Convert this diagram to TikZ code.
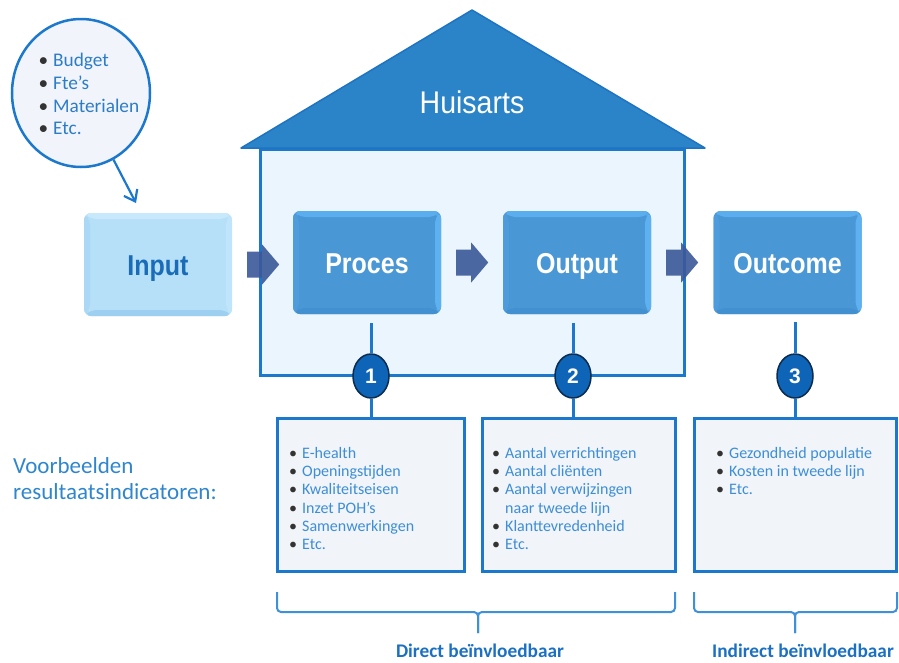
\documentclass[tikz,border=0pt]{standalone}
\usepackage{fontspec}
\setmainfont{Carlito}
\newfontfamily\lib{Liberation Sans}
\usetikzlibrary{shapes.geometric,calc,arrows.meta}
\definecolor{roof}{HTML}{2B84C7}
\definecolor{roofline}{HTML}{1E74C2}
\definecolor{housefill}{HTML}{EAF5FD}
\definecolor{blueline}{HTML}{1C78CC}
\definecolor{inface}{HTML}{B6DFF8}
\definecolor{intop}{HTML}{C8E8FB}
\definecolor{inbot}{HTML}{9DCFF0}
\definecolor{inleft}{HTML}{AAD8F5}
\definecolor{inright}{HTML}{C0E5FA}
\definecolor{intext}{HTML}{1A6CB8}
\definecolor{bface}{HTML}{4A97D6}
\definecolor{btop}{HTML}{5BAEEE}
\definecolor{bbot}{HTML}{4390D0}
\definecolor{bleft}{HTML}{4E9CDB}
\definecolor{bright}{HTML}{5DB1F0}
\definecolor{arrowc}{HTML}{3A5898}
\definecolor{boxfill}{HTML}{F1F4F9}
\definecolor{itemtext}{HTML}{3D8ED6}
\definecolor{bulc}{HTML}{333333}
\definecolor{numfill}{HTML}{0E64B6}
\definecolor{numline}{HTML}{0C2C50}
\definecolor{bubfill}{HTML}{F1F4FA}
\definecolor{bubtext}{HTML}{2C7DC8}
\definecolor{labtext}{HTML}{1C70C2}
\definecolor{bracec}{HTML}{3E90D9}
\definecolor{vbtext}{HTML}{2F86CC}
\newcommand{\biglab}[1]{\scalebox{1}[1.15]{\lib\bfseries\fontsize{25}{30}\selectfont #1}}
\newcommand{\itm}[1]{\llap{\textcolor{bulc}{\textbullet}\hspace{5pt}}#1}
\newcommand{\blockarr}[1]{\fill[arrowc, opacity=0.9] ($(#1)+(15,-13)$) -- ($(#1)+(30,-13)$) -- ($(#1)+(30,-20)$) -- ($(#1)+(47,0)$) -- ($(#1)+(30,20)$) -- ($(#1)+(30,13)$) -- ($(#1)+(15,13)$) -- cycle;}
\tikzset{
  bevel/.style n args={5}{rectangle, rounded corners=7pt, minimum width=148pt, minimum height=103pt, inner sep=0pt,
    text height=21pt, text depth=0pt, fill=#5,
    path picture={
      \coordinate (pa) at (path picture bounding box.south west);
      \coordinate (pb) at (path picture bounding box.north east);
      \coordinate (pc) at (pa|-pb);
      \coordinate (pd) at (pb|-pa);
      \fill[#1] (pa) -- (pd) -- ($(pd)+(-6,-6)$) -- ($(pa)+(6,-6)$) -- cycle;
      \fill[#2] (pc) -- (pb) -- ($(pb)+(-6,6)$) -- ($(pc)+(6,6)$) -- cycle;
      \fill[#3] (pa) -- (pc) -- ($(pc)+(6,6)$) -- ($(pa)+(6,-6)$) -- cycle;
      \fill[#4] (pd) -- (pb) -- ($(pb)+(-6,6)$) -- ($(pd)+(-6,-6)$) -- cycle;
    }},
  inputbox/.style={bevel={inbot}{intop}{inleft}{inright}{inface}, text=intext},
  stepbox/.style={bevel={bbot}{btop}{bleft}{bright}{bface}, text=white},
  conn/.style={draw=blueline, line width=3pt},
  numnode/.style={ellipse, minimum width=36pt, minimum height=44pt, inner sep=0pt, fill=numfill, draw=numline, line width=1.5pt, text=white, font=\lib\bfseries\fontsize{21}{24}\selectfont},
  listbox/.style={rectangle, draw=blueline, line width=3pt, fill=boxfill, inner sep=0pt},
  listtext/.style={anchor=north west, align=left, inner sep=0pt, text=itemtext, font=\fontsize{16}{18.3}\selectfont},
  brace/.style={draw=bracec, line width=2pt, rounded corners=4pt},
  lab/.style={anchor=base, inner sep=0pt, text=labtext, font=\bfseries\fontsize{19.3}{22}\selectfont},
}
\begin{document}
\begin{tikzpicture}[x=1pt,y=-1pt]
\useasboundingbox (0,0) rectangle (899,662);
% house
\filldraw[fill=housefill, draw=blueline, line width=3pt] (260,149) rectangle (684,375);
\filldraw[fill=roof, draw=roofline, line width=1.5pt, line join=round] (241,148) -- (472,10) -- (705,148) -- cycle;
\node[anchor=base, inner sep=0pt, text=white] (huis) at (472,113) {\scalebox{1}[1.1]{\lib\fontsize{28.5}{30}\selectfont Huisarts}};
% bubble
\node[ellipse, minimum width=138pt, minimum height=148pt, fill=bubfill, draw=blueline, line width=2.5pt, inner sep=0pt] (bubble) at (81,93) {};
\node[anchor=north west, align=left, inner sep=0pt, text=bubtext, font=\fontsize{19.3}{22.7}\selectfont] (bubtxt) at (53,53)
  {\itm{Budget}\\\itm{Fte’s}\\\itm{Materialen}\\\itm{Etc.}};
\coordinate (ptr) at (136,203);
\draw[draw=blueline, line width=2.2pt, -{Straight Barb[length=10pt,width=15pt]}] (bubble.-64) -- (ptr);
% main boxes
\node[inputbox] (in) at (158,264.5) {\biglab{Input}};
\node[stepbox] (proc) at (367,262.5) {\biglab{Proces}};
\node[stepbox] (outp) at (577,262.5) {\biglab{Output}};
\node[stepbox] (outc) at (787.5,262.5) {\biglab{Outcome}};
% block arrows
\blockarr{in.east}
\blockarr{proc.east}
\blockarr{outp.east}
% numbered circles
\node[numnode] (c1) at (371,376) {1};
\node[numnode] (c2) at (573,376) {2};
\node[numnode] (c3) at (795,376) {3};
% list boxes
\node[listbox, minimum width=187pt, minimum height=153pt] (b1) at (370.5,494.5) {};
\node[listbox, minimum width=193pt, minimum height=153pt] (b2) at (578.5,494.5) {};
\node[listbox, minimum width=202pt, minimum height=153pt] (b3) at (795,494.5) {};
% connectors
\draw[conn, shorten <=9pt] (c1 |- proc.south) -- (c1.north);
\draw[conn, shorten <=9pt] (c2 |- outp.south) -- (c2.north);
\draw[conn, shorten <=8pt] (c3 |- outc.south) -- (c3.north);
\draw[conn] (c1.south) -- (c1 |- b1.north);
\draw[conn] (c2.south) -- (c2 |- b2.north);
\draw[conn] (c3.south) -- (c3 |- b3.north);
% list texts
\node[listtext] (t1) at (302,447) {\itm{E-health}\\\itm{Openingstijden}\\\itm{Kwaliteitseisen}\\\itm{Inzet POH’s}\\\itm{Samenwerkingen}\\\itm{Etc.}};
\node[listtext] (t2) at (505,447) {\itm{Aantal verrichtingen}\\\itm{Aantal cliënten}\\\itm{Aantal verwijzingen}\\naar tweede lijn\\\itm{Klanttevredenheid}\\\itm{Etc.}};
\node[listtext] (t3) at (729,447) {\itm{Gezondheid populatie}\\\itm{Kosten in tweede lijn}\\\itm{Etc.}};
% side label
\node[anchor=north west, align=left, inner sep=0pt, text=vbtext, font=\fontsize{23}{26}\selectfont] (vb) at (13,457) {Voorbeelden\\resultaatsindicatoren:};
% braces
\draw[brace] (277,592) -- (277,612) -- (478,612) -- (478,633);
\draw[brace] (675,592) -- (675,612) -- (478,612) -- (478,633);
\draw[brace] (694,592) -- (694,612) -- (795,612) -- (795,633);
\draw[brace] (897,592) -- (897,612) -- (795,612) -- (795,633);
\node[lab] (ld) at (480,657) {Direct beïnvloedbaar};
\node[lab] (li) at (803,657) {Indirect beïnvloedbaar};
\end{tikzpicture}
\end{document}
